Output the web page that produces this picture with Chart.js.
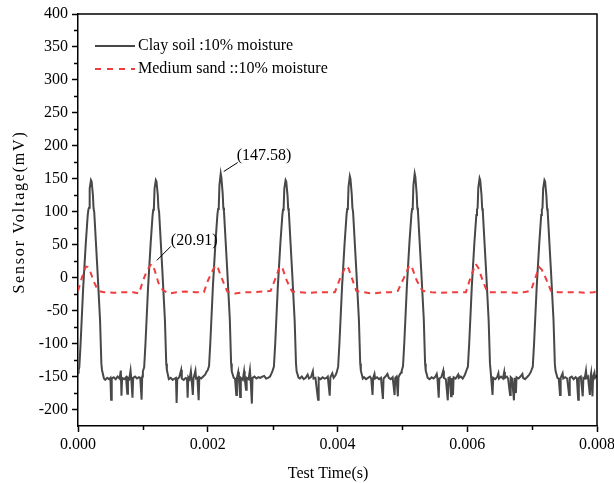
<!DOCTYPE html>
<html>
<head>
<meta charset="utf-8">
<script src="https://cdn.jsdelivr.net/npm/chart.js@4/dist/chart.umd.min.js"></script>
<style>
  body{ margin:0; background:#fff; }
  #wrap{ width:614px; height:483px; }
</style>
</head>
<body>
<div id="wrap"><canvas id="chart" width="614" height="483"></canvas></div>
<script>
// time (s), voltage (mV)
const clayData = [
  [0.00000,-138],[0.00001,-140],[0.00002,-136],[0.00004,-100],[0.00008,-15],[0.00012,52],[0.00015,95],[0.00016,103],[0.00017,106],[0.00018,135],
  [0.00020,148],[0.00021,146],[0.00023,125],[0.00024,105],[0.00025,100],[0.00030,11],[0.00034,-65],[0.00036,-130],[0.00037,-140],[0.00040,-153],
  [0.00042,-155],[0.00045,-152],[0.00048,-154],[0.00050,-152],[0.00051,-185],[0.00052,-153],[0.00055,-151],[0.00058,-154],[0.00061,-150],[0.00064,-153],
  [0.00066,-141],[0.00067,-179],[0.00068,-152],[0.00071,-154],[0.00074,-151],[0.00076,-176],[0.00077,-152],[0.00079,-154],[0.00081,-141],[0.00082,-152],
  [0.00084,-182],[0.00085,-152],[0.00088,-150],[0.00091,-153],[0.00094,-151],[0.00096,-152],[0.00098,-185],[0.00099,-150],
  [0.00100,-142],[0.00102,-136],[0.00104,-100],[0.00108,-15],[0.00112,52],[0.00115,95],[0.00116,103],[0.00117,106],[0.00118,135],[0.00120,148],
  [0.00121,146],[0.00123,125],[0.00124,105],[0.00125,100],[0.00130,11],[0.00134,-65],[0.00136,-130],[0.00137,-140],[0.00140,-154],
  [0.00143,-152],[0.00146,-155],[0.00149,-153],[0.00151,-152],[0.00152,-190],[0.00153,-154],[0.00156,-151],[0.00159,-140],[0.00160,-153],[0.00163,-155],
  [0.00166,-152],[0.00168,-153],[0.00169,-182],[0.00170,-151],[0.00172,-154],[0.00174,-142],[0.00175,-152],[0.00177,-178],[0.00178,-153],[0.00181,-141],
  [0.00182,-153],[0.00184,-152],[0.00186,-186],[0.00187,-151],[0.00190,-153],[0.00193,-150],[0.00196,-147],[0.00198,-143],
  [0.00200,-140],[0.00202,-134],[0.00204,-98],[0.00208,-12],[0.00212,55],[0.00215,97],[0.00216,104],[0.00217,108],[0.00218,140],[0.00220,158],
  [0.00221,152],[0.00223,128],[0.00224,106],[0.00225,101],[0.00230,12],[0.00234,-63],[0.00236,-130],[0.00237,-142],[0.00240,-152],
  [0.00242,-153],[0.00244,-178],[0.00245,-152],[0.00247,-143],[0.00248,-153],[0.00250,-181],[0.00251,-152],[0.00254,-155],[0.00256,-142],[0.00257,-153],
  [0.00259,-170],[0.00260,-152],[0.00263,-154],[0.00265,-140],[0.00266,-153],[0.00268,-191],[0.00269,-152],[0.00272,-150],[0.00275,-153],[0.00278,-151],
  [0.00281,-152],[0.00284,-150],[0.00287,-149],[0.00290,-153],[0.00293,-152],[0.00296,-150],[0.00298,-146],
  [0.00300,-141],[0.00302,-135],[0.00304,-100],[0.00308,-14],[0.00312,53],[0.00315,95],[0.00316,103],[0.00317,106],[0.00318,135],[0.00320,148],
  [0.00321,146],[0.00323,124],[0.00324,105],[0.00325,100],[0.00330,10],[0.00334,-66],[0.00336,-130],[0.00337,-142],[0.00340,-152],
  [0.00342,-153],[0.00345,-150],[0.00348,-154],[0.00351,-152],[0.00354,-147],[0.00356,-153],[0.00359,-151],[0.00362,-142],[0.00363,-153],[0.00366,-152],
  [0.00370,-185],[0.00371,-152],[0.00374,-154],[0.00377,-151],[0.00380,-153],[0.00383,-152],[0.00385,-150],[0.00388,-179],[0.00389,-151],[0.00392,-145],
  [0.00394,-152],[0.00397,-148],[0.00399,-143],
  [0.00401,-135],[0.00403,-99],[0.00407,-14],[0.00411,53],[0.00414,96],[0.00415,104],[0.00416,107],[0.00417,138],[0.00419,154],[0.00420,150],
  [0.00422,126],[0.00423,106],[0.00424,100],[0.00429,11],[0.00433,-64],[0.00435,-130],[0.00436,-141],[0.00439,-153],
  [0.00441,-151],[0.00444,-154],[0.00447,-152],[0.00450,-150],[0.00452,-153],[0.00454,-178],[0.00455,-152],[0.00457,-146],[0.00458,-153],[0.00461,-151],
  [0.00464,-154],[0.00467,-152],[0.00470,-184],[0.00471,-153],[0.00474,-150],[0.00477,-146],[0.00479,-152],[0.00482,-154],[0.00485,-151],[0.00488,-178],
  [0.00489,-152],[0.00491,-150],[0.00493,-180],[0.00494,-151],[0.00496,-147],[0.00498,-144],
  [0.00499,-141],[0.00501,-134],[0.00503,-98],[0.00507,-12],[0.00511,55],[0.00514,97],[0.00515,104],[0.00516,108],[0.00517,140],[0.00519,158],
  [0.00520,153],[0.00522,128],[0.00523,106],[0.00524,101],[0.00529,12],[0.00533,-63],[0.00535,-130],[0.00536,-141],[0.00539,-152],
  [0.00542,-154],[0.00545,-151],[0.00548,-153],[0.00551,-150],[0.00553,-146],[0.00554,-152],[0.00556,-182],[0.00557,-153],[0.00560,-151],[0.00563,-141],
  [0.00564,-152],[0.00567,-154],[0.00570,-186],[0.00571,-152],[0.00573,-151],[0.00575,-180],[0.00576,-152],[0.00578,-178],[0.00579,-151],[0.00582,-153],
  [0.00586,-147],[0.00587,-152],[0.00590,-150],[0.00593,-153],[0.00596,-148],[0.00598,-143],
  [0.00599,-140],[0.00601,-135],[0.00603,-100],[0.00607,-14],[0.00611,53],[0.00614,95],[0.00615,103],[0.00616,106],[0.00617,136],[0.00619,151],
  [0.00620,148],[0.00622,125],[0.00623,105],[0.00624,100],[0.00629,11],[0.00633,-65],[0.00635,-130],[0.00636,-141],[0.00639,-178],
  [0.00640,-152],[0.00643,-154],[0.00646,-151],[0.00648,-145],[0.00649,-153],[0.00652,-150],[0.00655,-153],[0.00657,-143],[0.00658,-152],[0.00661,-150],
  [0.00663,-153],[0.00666,-178],[0.00667,-151],[0.00669,-153],[0.00672,-186],[0.00673,-152],[0.00675,-175],[0.00676,-151],[0.00679,-153],[0.00682,-150],
  [0.00685,-146],[0.00686,-152],[0.00689,-154],[0.00692,-151],[0.00695,-148],[0.00698,-143],
  [0.00699,-140],[0.00701,-135],[0.00703,-100],[0.00707,-15],[0.00711,52],[0.00714,95],[0.00715,103],[0.00716,106],[0.00717,135],[0.00719,148],
  [0.00720,146],[0.00722,124],[0.00723,105],[0.00724,100],[0.00729,11],[0.00733,-65],[0.00735,-130],[0.00736,-141],[0.00739,-152],
  [0.00741,-153],[0.00743,-178],[0.00744,-152],[0.00747,-145],[0.00748,-153],[0.00751,-151],[0.00754,-153],[0.00757,-178],[0.00758,-152],[0.00761,-150],
  [0.00764,-154],[0.00767,-151],[0.00769,-153],[0.00771,-185],[0.00772,-152],[0.00775,-150],[0.00778,-180],[0.00779,-152],[0.00781,-153],[0.00783,-141],
  [0.00784,-152],[0.00786,-150],[0.00789,-178],[0.00790,-151],[0.00791,-145],[0.00793,-180],[0.00794,-150],[0.00796,-144],[0.00797,-152],[0.00800,-148]
];

const sandData = [
  [0.00000,-20],[0.00006,0],[0.00012,17],[0.00015,16],[0.00018,12],[0.00024,-5],[0.00031,-20],[0.00040,-22],[0.00055,-23],[0.00070,-22],[0.00085,-22],[0.00094,-24],
  [0.00100,-5],[0.00106,10],[0.00113,20.91],[0.00118,12],[0.00124,-8],[0.00131,-19],[0.00140,-24],[0.00152,-22],[0.00165,-21],[0.00180,-22],[0.00194,-22],
  [0.00200,-5],[0.00206,8],[0.00212,19],[0.00216,14],[0.00222,-2],[0.00230,-21],[0.00242,-24],[0.00255,-22],[0.00270,-22],[0.00285,-21],[0.00297,-20],
  [0.00304,-2],[0.00311,17],[0.00315,15],[0.00322,-5],[0.00330,-21],[0.00340,-22],[0.00355,-23],[0.00370,-22],[0.00385,-22],[0.00396,-22],
  [0.00404,-1],[0.00413,18],[0.00417,14],[0.00423,-3],[0.00429,-20],[0.00440,-22],[0.00454,-24],[0.00470,-22],[0.00482,-22],[0.00493,-20],
  [0.00502,-1],[0.00511,19],[0.00515,15],[0.00522,-4],[0.00531,-20],[0.00545,-22],[0.00560,-23],[0.00575,-22],[0.00588,-22],[0.00598,-22],
  [0.00605,0],[0.00613,21],[0.00617,15],[0.00624,-5],[0.00631,-22],[0.00645,-22],[0.00660,-22],[0.00675,-23],[0.00687,-22],[0.00698,-20],
  [0.00705,0],[0.00711,16],[0.00715,12],[0.00722,-3],[0.00729,-20],[0.00740,-22],[0.00755,-22],[0.00770,-22],[0.00785,-23],[0.00795,-22],[0.00800,-21]
];

const seriesLabels = ["Clay soil :10% moisture", "Medium sand ::10% moisture"];
const xTicks = [0, 0.002, 0.004, 0.006, 0.008];
const yTicks = [-200, -150, -100, -50, 0, 50, 100, 150, 200, 250, 300, 350, 400];
const xMinorTicks = [0.001, 0.003, 0.005, 0.007];
const yMinorTicks = [-175, -125, -75, -25, 25, 75, 125, 175, 225, 275, 325, 375];
// [x, y, label] of the two marked peaks
const peakNotes = [[0.0022, 158, "(147.58)"], [0.00113, 20.91, "(20.91)"]];

const FONT = "'Liberation Serif', 'Times New Roman', serif";
const CLAY = "#484848";
const SAND = "#ef3e3e";

const decor = {
  id: "decor",
  afterDraw(chart){
    const { ctx, chartArea: a, scales: { x, y } } = chart;
    ctx.save();
    ctx.strokeStyle = "#000";
    ctx.lineWidth = 1.5;
    // top / right frame
    ctx.beginPath();
    ctx.moveTo(a.left, a.top); ctx.lineTo(a.right, a.top); ctx.lineTo(a.right, a.bottom);
    ctx.stroke();
    // minor ticks
    ctx.beginPath();
    yMinorTicks.forEach(v => { const p = Math.round(y.getPixelForValue(v)) + 0.5; ctx.moveTo(a.left - 4, p); ctx.lineTo(a.left, p); });
    xMinorTicks.forEach(v => { const p = Math.round(x.getPixelForValue(v)) + 0.5; ctx.moveTo(p, a.bottom); ctx.lineTo(p, a.bottom + 4); });
    ctx.stroke();

    // legend
    ctx.lineWidth = 2;
    ctx.strokeStyle = CLAY;
    ctx.beginPath(); ctx.moveTo(95, 46); ctx.lineTo(135, 46); ctx.stroke();
    ctx.strokeStyle = SAND;
    ctx.setLineDash([6, 6]);
    ctx.beginPath(); ctx.moveTo(95, 69); ctx.lineTo(135, 69); ctx.stroke();
    ctx.setLineDash([]);
    ctx.fillStyle = "#000";
    ctx.font = "16px " + FONT;
    ctx.textBaseline = "middle";
    ctx.textAlign = "left";
    ctx.fillText(seriesLabels[0], 138, 46);
    ctx.fillText(seriesLabels[1], 138, 69);

    // peak notes
    ctx.strokeStyle = "#000";
    ctx.lineWidth = 1;
    const offs = [[3, -2, 17, -11, 16, -18], [5.5, -3.5, 19.5, -17.5, 19.5, -23.5]];
    peakNotes.forEach(([t, v, txt], i) => {
      const px = x.getPixelForValue(t), py = y.getPixelForValue(v), o = offs[i];
      ctx.beginPath(); ctx.moveTo(px + o[0], py + o[1]); ctx.lineTo(px + o[2], py + o[3]); ctx.stroke();
      ctx.fillText(txt, px + o[4], py + o[5]);
    });

    // axis titles
    ctx.textAlign = "center";
    ctx.fillText("Test Time(s)", 328, 474);
    ctx.translate(20, 212);
    ctx.rotate(-Math.PI / 2);
    ctx.letterSpacing = "1.8px";
    ctx.fillText("Sensor Voltage(mV)", 0, 0);
    ctx.restore();
  }
};

const toXY = arr => arr.map(([t, v]) => ({ x: t, y: v }));

new Chart(document.getElementById("chart"), {
  type: "line",
  data: {
    datasets: [
      { label: seriesLabels[1], data: toXY(sandData), borderColor: SAND, borderWidth: 2, borderDash: [6, 5], pointRadius: 0, tension: 0 },
      { label: seriesLabels[0], data: toXY(clayData), borderColor: CLAY, borderWidth: 2, pointRadius: 0, tension: 0 }
    ]
  },
  options: {
    responsive: false,
    animation: false,
    layout: { padding: { left: 0, top: 14, right: 17, bottom: 0 } },
    plugins: { legend: { display: false }, tooltip: { enabled: false } },
    scales: {
      x: {
        type: "linear", min: 0, max: 0.008,
        afterFit(s){ s.height = 57; s.paddingLeft = 0; s.paddingRight = 0; },
        afterBuildTicks(s){ s.ticks = xTicks.map(v => ({ value: v })); },
        ticks: { maxRotation: 0, autoSkip: false, padding: 3, color: "#000", font: { family: FONT, size: 16 },
          callback: v => Number(v).toFixed(3) },
        grid: { drawOnChartArea: false, tickLength: 6, tickColor: "#000", tickWidth: 1.5 },
        border: { color: "#000", width: 1.5 }
      },
      y: {
        min: -225, max: 400,
        afterFit(s){ s.width = 78; s.paddingTop = 0; s.paddingBottom = 0; },
        afterBuildTicks(s){ s.ticks = yTicks.map(v => ({ value: v })); },
        ticks: { autoSkip: false, padding: 4, color: "#000", font: { family: FONT, size: 16 } },
        grid: { drawOnChartArea: false, tickLength: 6, tickColor: "#000", tickWidth: 1.5 },
        border: { color: "#000", width: 1.5 }
      }
    }
  },
  plugins: [decor]
});
</script>
</body>
</html>
